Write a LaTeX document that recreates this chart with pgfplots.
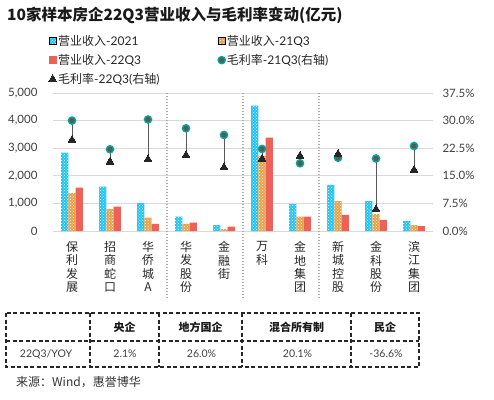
\documentclass[border=0pt]{standalone}
\usepackage{fontspec}
\setmainfont{Lato}
\newfontfamily\cjk{Noto Sans CJK SC}
\usepackage{pgfplots}
\usepackage{pgfplotstable}
\pgfplotsset{compat=1.18}
\usetikzlibrary{patterns}
\definecolor{cblue}{RGB}{30,196,246}
\definecolor{corange}{RGB}{232,160,70}
\definecolor{cred}{RGB}{236,98,89}
\definecolor{cteal}{RGB}{0,170,150}
\definecolor{cmark}{RGB}{89,89,89}
\definecolor{ctri}{RGB}{38,38,38}
\definecolor{cgrid}{RGB}{217,217,217}
\definecolor{ctext}{RGB}{64,64,64}
\definecolor{csep}{RGB}{175,175,175}

\pgfplotstableread{
x a b c
0 2840 1370 1570
1 1606 797 882
2 1014 482 254
3 519 254 302
4 217 72 157
5 4540 2720 3381
6 978 519 519
7 1667 1087 580
8 1087 616 399
9 362 217 181
}\bars

\pgfplotstableread{
x m21 m22
0 30.0 24.7
1 22.2 18.8
2 30.3 19.5
3 27.9 20.6
4 26.1 17.3
5 22.3 19.6
6 18.4 20.4
7 19.9 20.9
8 19.7 5.9
9 23.1 16.6
}\margins

\pgfplotstableread{
x y
0 30.0
0 24.7
0 nan
1 22.2
1 18.8
1 nan
2 30.3
2 19.5
2 nan
3 27.9
3 20.6
3 nan
4 26.1
4 17.3
4 nan
5 22.3
5 19.6
5 nan
6 18.4
6 20.4
6 nan
7 19.9
7 20.9
7 nan
8 19.7
8 5.9
8 nan
9 23.1
9 16.6
}\links

\pgfplotstableread{
x y
2.5 37.5
2.5 -18.75
2.5 nan
4.5 37.5
4.5 -18.75
4.5 nan
6.5 37.5
6.5 -18.75
}\seps

\tikzset{
  bluebar/.style={fill=cblue, draw=none, postaction={pattern=crosshatch dots, pattern color=white}},
  orangebar/.style={fill=corange, draw=none, postaction={pattern=crosshatch dots, pattern color=white}},
  redbar/.style={fill=cred, draw=none},
}
\pgfplotsset{
  markleg/.style={legend image code/.code={\draw[##1] plot coordinates {(3.5pt,0pt)};}},
}

\begin{document}
\begin{tikzpicture}[x=1pt,y=1pt]
\useasboundingbox (0,0) rectangle (494,399);
\node[anchor=west, inner sep=0pt, font=\cjk\bfseries\fontsize{15.5}{18}\selectfont, text=black!90] at (7,384) {10家样本房企22Q3营业收入与毛利率变动(亿元)};

\begin{axis}[
  at={(53pt,168pt)}, anchor=south west, scale only axis,
  width=380pt, height=138pt,
  xmin=-0.5, xmax=9.5, ymin=0, ymax=5000,
  axis line style={draw=none}, tick style={draw=none},
  ytick={0,1000,2000,3000,4000,5000},
  scaled y ticks=false,
  ymajorgrids, grid style={cgrid, line width=0.9pt},
  xtick={0,1,2,3,4,5,6,7,8,9},
  xticklabels={{保\\利\\发\\展},{招\\商\\蛇\\口},{华\\侨\\城\\A},{华\\发\\股\\份},{金\\融\\街},{万\\科},{金\\地\\集\\团},{新\\城\\控\\股},{金\\科\\股\\份},{滨\\江\\集\\团}},
  xticklabel style={font=\cjk\fontsize{12}{13.3}\selectfont, align=center, anchor=north, yshift=-7pt, text=black!85},
  yticklabel style={font=\fontsize{11.5}{13}\selectfont, text=ctext, xshift=-12pt},
  /pgf/number format/assume math mode=true,
  /pgf/number format/1000 sep={,},
  clip=false,
]
\addplot[ybar, bar width=0.19, bar shift=-0.19, bluebar] table[x=x,y=a] {\bars};
\addplot[ybar, bar width=0.19, bar shift=0, orangebar] table[x=x,y=b] {\bars};
\addplot[ybar, bar width=0.19, bar shift=0.19, redbar] table[x=x,y=c] {\bars};
\end{axis}

\begin{axis}[
  at={(53pt,168pt)}, anchor=south west, scale only axis,
  width=380pt, height=138pt,
  xmin=-0.5, xmax=9.5, ymin=0, ymax=37.5,
  axis line style={draw=none}, tick style={draw=none},
  xtick=\empty,
  ytick={0,7.5,15,22.5,30,37.5},
  yticklabel pos=right,
  yticklabel={\pgfmathprintnumber[fixed,fixed zerofill,precision=1]{\tick}\%},
  yticklabel style={font=\fontsize{11.5}{13}\selectfont, text=ctext, xshift=6pt},
  /pgf/number format/assume math mode=true,
  clip=false,
  unbounded coords=jump,
  legend columns=2,
  legend cell align=left,
  legend style={at={(-0.0118,1.431)}, anchor=north west, draw=none, fill=none,
    font=\fontsize{12}{14}\selectfont, text=black!85, inner sep=0pt,
    nodes={inner sep=1.5pt},
    /tikz/every even column/.append style={column sep=57pt},
    row sep=4.5pt},
]
\addlegendimage{legend image code/.code={\fill[cblue] (0pt,-3.5pt) rectangle (7pt,3.5pt); \fill[pattern=crosshatch dots, pattern color=white] (0pt,-3.5pt) rectangle (7pt,3.5pt);}}
\addlegendentry{{\cjk 营业收入}-2021}
\addlegendimage{legend image code/.code={\fill[corange] (0pt,-3.5pt) rectangle (7pt,3.5pt); \fill[pattern=crosshatch dots, pattern color=white] (0pt,-3.5pt) rectangle (7pt,3.5pt);}}
\addlegendentry{{\cjk 营业收入}-21Q3}
\addlegendimage{legend image code/.code={\fill[cred] (0pt,-3.5pt) rectangle (7pt,3.5pt);}}
\addlegendentry{{\cjk 营业收入}-22Q3}

\addplot[forget plot, csep, line width=1.2pt, dash pattern=on 1.3pt off 1.7pt] table[x=x,y=y] {\seps};
\addplot[forget plot, cmark, line width=1pt] table[x=x,y=y] {\links};

\addplot[only marks, mark=*, mark size=3.6pt, mark options={fill=cmark, draw=cteal, line width=1.4pt}, markleg] table[x=x,y=m21] {\margins};
\addlegendentry{{\cjk 毛利率}-21Q3({\cjk 右轴})}
\addplot[only marks, mark=triangle*, mark size=4.6pt, mark options={fill=ctri, draw=ctri, line width=0pt}, markleg] table[x=x,y=m22] {\margins};
\addlegendentry{{\cjk 毛利率}-22Q3({\cjk 右轴})}
\end{axis}

% table
\begin{scope}[line width=1.2pt, black!85, dash pattern=on 4pt off 2.5pt]
\draw (6,86) rectangle (419,32);
\draw (6,58) -- (419,58);
\foreach \xx in {90,159,242,351} {\draw (\xx,86) -- (\xx,32);}
\end{scope}
\begin{scope}[font=\cjk\bfseries\fontsize{11}{13}\selectfont, text=black!90]
\node at (124.5,72) {央企};
\node at (200.5,72) {地方国企};
\node at (296.5,72) {混合所有制};
\node at (385,72) {民企};
\end{scope}
\begin{scope}[font=\fontsize{10.5}{12}\selectfont, text=ctext]
\node at (46,45) {22Q3/YOY};
\node at (125,45) {2.1\%};
\node at (201.5,45) {26.0\%};
\node at (297.5,45) {20.1\%};
\node at (386,45) {-36.6\%};
\end{scope}
\node[anchor=west, inner sep=0pt, font=\cjk\fontsize{12}{14}\selectfont, text=black!80] at (16,17) {来源：Wind，惠誉博华};
\end{tikzpicture}
\end{document}
